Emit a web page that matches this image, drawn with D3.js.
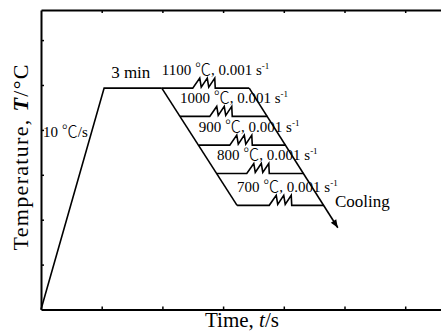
<!DOCTYPE html>
<html>
<head>
<meta charset="utf-8">
<script src="https://cdn.jsdelivr.net/npm/d3@7"></script>
<style>
  body { margin: 0; background: #fff; }
  text { font-family: "Liberation Serif", "Times New Roman", serif; fill: #000; }
  .cjk { font-family: "Noto Sans CJK SC", sans-serif; font-weight: 300; }
</style>
</head>
<body>
<svg width="441" height="333"></svg>
<script>
// values (time / temperature in tick units)
var temps = ["1100", "1000", "900", "800", "700"];
var levelT = [4.93, 4.30, 3.66, 3.03, 2.32];
var leftX = [1.99, 2.29, 2.60, 2.90, 3.23];
var rightX = [3.43, 3.73, 4.03, 4.33, 4.66];
var springX = [2.50, 2.78, 3.11, 3.39, 3.76];
var heatPath = [[0, 0], [1.04, 4.93], [1.99, 4.93]];
var leftDiag = [[1.99, 4.93], [3.23, 2.32]];
var coolPath = [[3.43, 4.93], [4.89, 1.82]];
var xTicks = [1, 2, 3, 4, 5, 6, 7];
var yTicks = [1, 2, 3, 4, 5, 6];

var svg = d3.select("svg"),
  margin = {top: 10, left: 41},
  innerH = 299.5;

var x = d3.scaleLinear().domain([0, 7]).range([margin.left, margin.left + 7 * 60.7]);
var y = d3.scaleLinear().domain([0, 6.67]).range([margin.top + innerH, margin.top]);

var line = d3.line()
    .x(function(d) { return x(d[0]); })
    .y(function(d) { return y(d[1]); });

// axes, ticks pointing inward
svg.append("g")
    .attr("transform", "translate(0," + y(0) + ")")
    .call(d3.axisBottom(x).tickValues(xTicks).tickSizeInner(-3).tickSizeOuter(0).tickFormat(""));
svg.append("g")
    .attr("transform", "translate(0," + y(6.67) + ")")
    .call(d3.axisTop(x).tickValues(xTicks).tickSizeInner(-3).tickSizeOuter(0).tickFormat(""));
svg.append("g")
    .attr("transform", "translate(" + x(0) + ",0)")
    .call(d3.axisLeft(y).tickValues(yTicks).tickSizeInner(-3).tickSizeOuter(0).tickFormat(""));
svg.selectAll(".domain").attr("stroke-width", 2);
svg.selectAll(".tick line").attr("stroke-width", 1.5);

svg.append("defs").append("marker")
    .attr("id", "arrow")
    .attr("viewBox", "0 0 10 10")
    .attr("refX", 10).attr("refY", 5)
    .attr("markerWidth", 7).attr("markerHeight", 5)
    .attr("markerUnits", "strokeWidth")
    .attr("orient", "auto")
  .append("path")
    .attr("d", "M0,1L10,5L0,9z")
    .attr("fill", "#000");

var g = svg.append("g")
    .attr("fill", "none")
    .attr("stroke", "#000")
    .attr("stroke-width", 1.6)
    .attr("stroke-linejoin", "miter");

g.append("path").attr("d", line(heatPath));
g.append("path").attr("d", line(leftDiag));
g.append("path").attr("d", line(coolPath)).attr("marker-end", "url(#arrow)");

// horizontal hold lines with a spring (deformation) symbol
temps.forEach(function(t, i) {
  var yy = y(levelT[i]), x0 = x(springX[i]);
  var p = d3.path();
  p.moveTo(x(leftX[i]), yy);
  p.lineTo(x0, yy);
  p.lineTo(x0 + 7, yy - 10);
  p.lineTo(x0 + 8.5, yy - 1);
  p.lineTo(x0 + 14.5, yy - 10);
  p.lineTo(x0 + 16, yy - 1);
  p.lineTo(x0 + 22, yy - 10);
  p.lineTo(x0 + 22.5, yy);
  p.lineTo(x(rightX[i]), yy);
  g.append("path").attr("d", p.toString());

  var lab = svg.append("text")
      .attr("x", x(leftX[i]))
      .attr("y", yy - 13)
      .style("font-size", "15px");
  lab.append("tspan").text(t + " ");
  lab.append("tspan").attr("class", "cjk").style("font-size", "16px").text("\u2103");
  lab.append("tspan").text(", 0.001 s");
  lab.append("tspan").attr("dy", -6).style("font-size", "9px").text("-1");
});

svg.append("text")
    .attr("x", x(1.04) + 7).attr("y", y(4.93) - 10)
    .style("font-size", "17px")
    .text("3 min");

var rt = svg.append("text")
    .attr("x", x(0) + 2).attr("y", 137)
    .style("font-size", "15px");
rt.append("tspan").text("10 ");
rt.append("tspan").attr("class", "cjk").style("font-size", "16px").text("\u2103");
rt.append("tspan").text("/s");

svg.append("text")
    .attr("x", 335).attr("y", 207)
    .style("font-size", "17px")
    .text("Cooling");

svg.append("text")
    .attr("x", 242).attr("y", 327)
    .attr("text-anchor", "middle")
    .style("font-size", "21px")
    .html("Time, <tspan font-style='italic'>t</tspan>/s");

svg.append("text")
    .attr("transform", "translate(28,157.5) rotate(-90)")
    .attr("text-anchor", "middle")
    .attr("textLength", 186)
    .attr("lengthAdjust", "spacing")
    .style("font-size", "22px")
    .html("Temperature, <tspan font-style='italic' font-weight='bold'>T</tspan>/\u00b0C");
</script>
</body>
</html>
